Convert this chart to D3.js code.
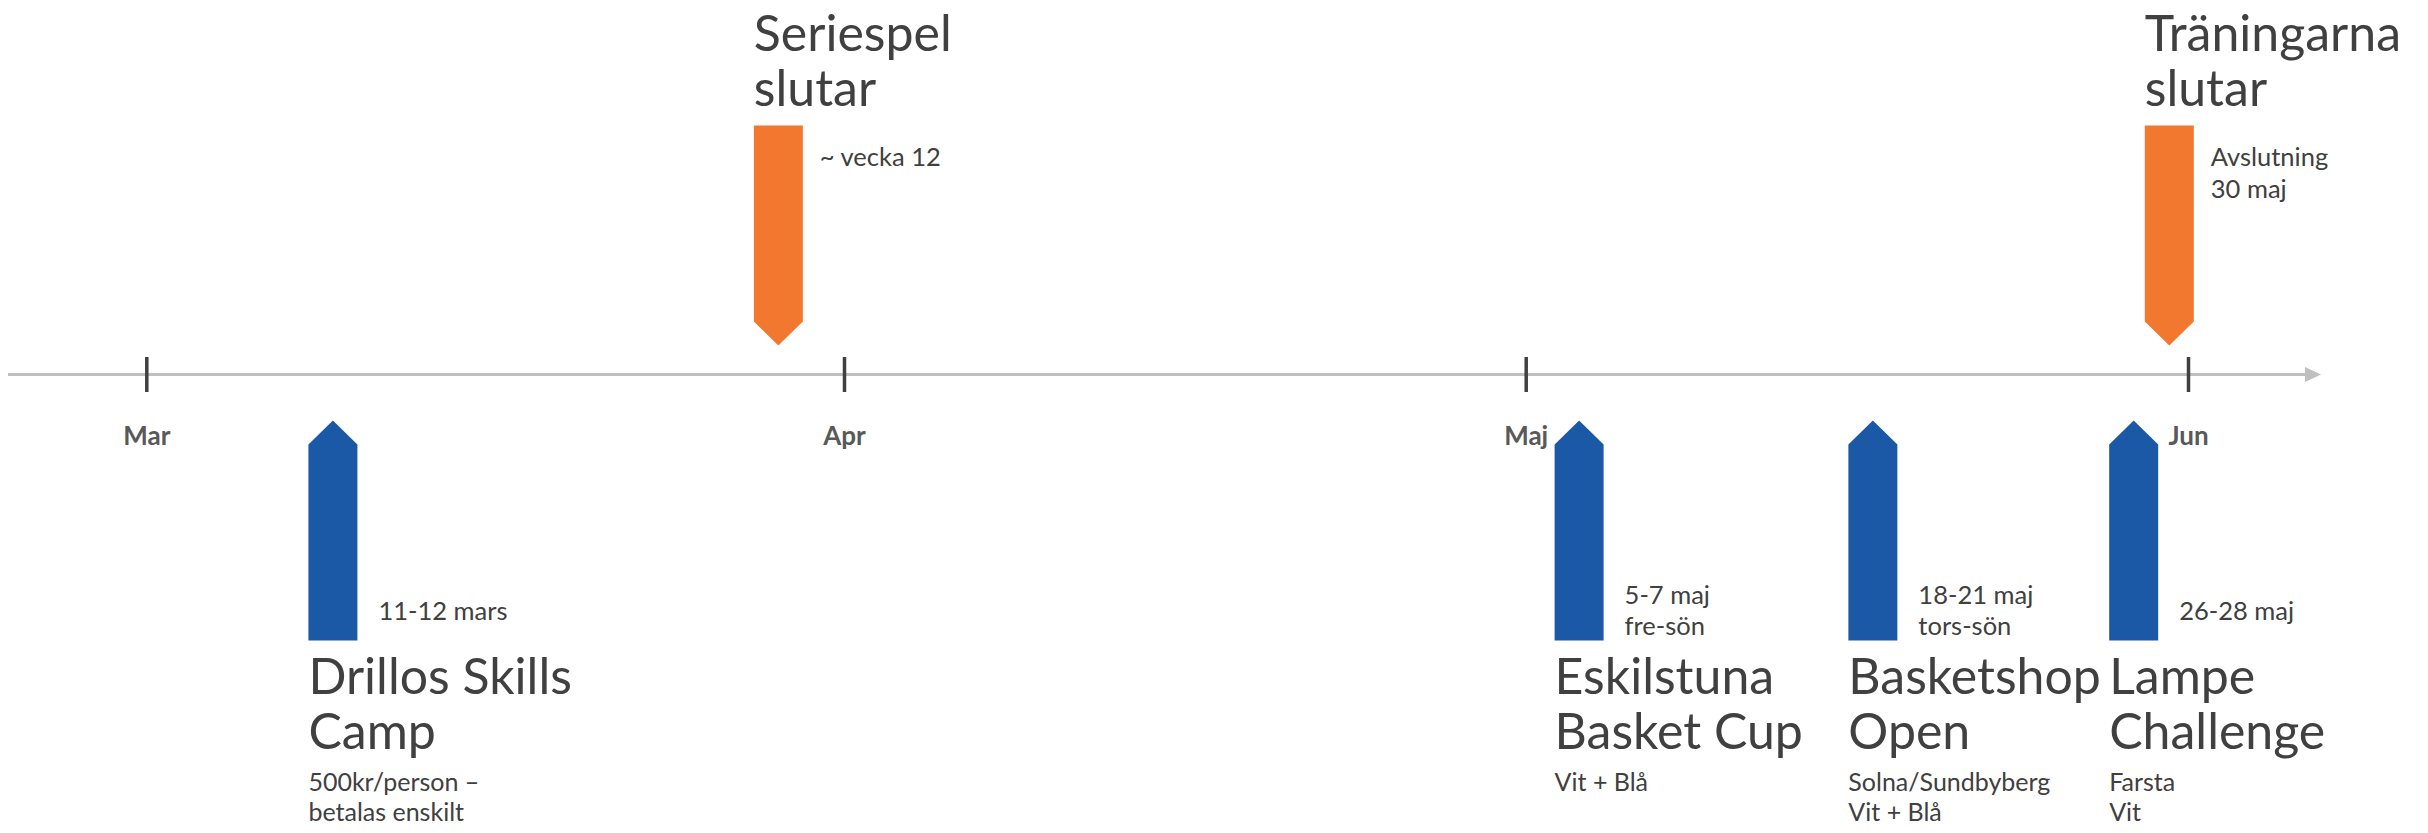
<!DOCTYPE html>
<html>
<head>
<meta charset="utf-8">
<script src="https://cdn.jsdelivr.net/npm/d3@7"></script>
<style>
body { margin: 0; background: #fff; }
svg { display: block; font-family: Lato, "Open Sans", sans-serif; }
</style>
</head>
<body>
<svg width="2428" height="833"></svg>
<script>
// months on the axis
var monthDates = ["2023-03-01", "2023-04-01", "2023-05-01", "2023-06-01"];
var monthLabels = ["Mar", "Apr", "Maj", "Jun"];

// events
var eventDates = ["2023-03-09T07:00", "2023-03-29T02:00", "2023-05-03T12:00",
                  "2023-05-17T06:00", "2023-05-29T11:00", "2023-05-31T03:00"];
var eventSides = ["below", "above", "below", "below", "below", "above"];
var eventTitles = [["Drillos Skills", "Camp"], ["Seriespel", "slutar"], ["Eskilstuna", "Basket Cup"],
                   ["Basketshop", "Open"], ["Lampe", "Challenge"], ["Träningarna", "slutar"]];
var eventNotes = [["11-12 mars"], ["~ vecka 12"], ["5-7 maj", "fre-sön"],
                  ["18-21 maj", "tors-sön"], ["26-28 maj"], ["Avslutning", "30 maj"]];
var eventExtras = [["500kr/person –", "betalas enskilt"], [], ["Vit + Blå"],
                   ["Solna/Sundbyberg", "Vit + Blå"], ["Farsta", "Vit"], []];

var parse = d3.isoParse;
var svg = d3.select("svg");
var axisY = 374.5;
var arrowW = 49, arrowLen = 220, tipLen = 24;
var colors = {below: "#1b59a7", above: "#f2772f"};
var textColor = "#404040";

var x = d3.scaleTime()
  .domain(monthDates.map(parse))
  .range([146.3, 844, 1525.7, 2188]);

// axis line + arrow head
svg.append("line")
  .attr("x1", 8).attr("x2", 2306)
  .attr("y1", axisY).attr("y2", axisY)
  .attr("stroke", "#bfbfbf").attr("stroke-width", 3);
svg.append("path")
  .attr("d", "M2305," + (axisY - 7.5) + "L2321," + axisY + "L2305," + (axisY + 7.5) + "Z")
  .attr("fill", "#bfbfbf");

var xaxis = d3.axisBottom(x)
  .tickValues(monthDates.map(parse))
  .tickFormat(function(d, i) { return monthLabels[i]; })
  .tickSize(35)
  .tickPadding(35);

var g = svg.append("g")
  .attr("transform", "translate(0," + (axisY - 17.5) + ")")
  .call(xaxis);
g.select(".domain").remove();
g.selectAll(".tick line").attr("stroke", "#404040").attr("stroke-width", 3.5);
g.selectAll(".tick text")
  .attr("fill", "#595959")
  .style("font-family", "Lato, sans-serif")
  .style("font-size", "26px")
  .style("font-weight", "bold");

var events = eventDates.map(function(d, i) {
  return {date: parse(d), side: eventSides[i], title: eventTitles[i],
          notes: eventNotes[i], extras: eventExtras[i]};
});

var ev = svg.selectAll("g.event")
  .data(events)
  .enter()
  .append("g")
  .attr("class", "event");

// arrow shapes
ev.append("path")
  .attr("fill", function(d) { return colors[d.side]; })
  .attr("d", function(d) {
    var cx = x(d.date), h = arrowW / 2;
    if (d.side == "below") {
      var t = axisY + 46;
      return "M" + cx + "," + t + "L" + (cx + h) + "," + (t + tipLen) + "L" + (cx + h) + "," + (t + arrowLen) +
        "L" + (cx - h) + "," + (t + arrowLen) + "L" + (cx - h) + "," + (t + tipLen) + "Z";
    }
    var b = axisY - 29;
    return "M" + cx + "," + b + "L" + (cx + h) + "," + (b - tipLen) + "L" + (cx + h) + "," + (b - arrowLen) +
      "L" + (cx - h) + "," + (b - arrowLen) + "L" + (cx - h) + "," + (b - tipLen) + "Z";
  });

// titles
ev.each(function(d) {
  var sel = d3.select(this);
  var left = x(d.date) - arrowW / 2;
  var n = d.title.length;
  sel.selectAll("text.title")
    .data(d.title)
    .enter()
    .append("text")
    .attr("class", "title")
    .attr("x", left)
    .attr("y", function(t, i) {
      if (d.side == "below") return axisY + 319 + i * 55;
      return axisY - 29 - arrowLen - 20 - (n - 1 - i) * 55;
    })
    .attr("fill", textColor)
    .style("font-size", "50px")
    .text(function(t) { return t; });

  // date notes beside the arrow
  var m = d.notes.length;
  sel.selectAll("text.note")
    .data(d.notes)
    .enter()
    .append("text")
    .attr("class", "note")
    .attr("x", left + arrowW + (d.side == "below" ? 21 : 17))
    .attr("y", function(t, i) {
      if (d.side == "below") return axisY + 245 + (i - (m - 1) / 2) * 31;
      return axisY - 29 - arrowLen + 40 + i * 32;
    })
    .attr("fill", textColor)
    .style("font-size", "25.5px")
    .text(function(t) { return t; });

  // extra lines under the title
  sel.selectAll("text.extra")
    .data(d.extras)
    .enter()
    .append("text")
    .attr("class", "extra")
    .attr("x", left)
    .attr("y", function(t, i) { return axisY + 416 + i * 30; })
    .attr("fill", textColor)
    .style("font-size", "25px")
    .text(function(t) { return t; });
});
</script>
</body>
</html>
